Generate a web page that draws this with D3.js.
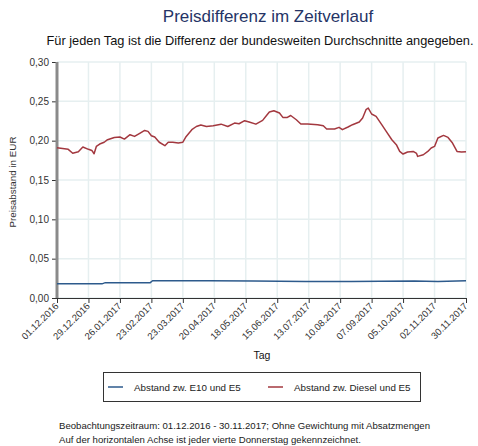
<!DOCTYPE html>
<html>
<head>
<meta charset="utf-8">
<script src="https://cdn.jsdelivr.net/npm/d3@7"></script>
<style>
  body { margin: 0; background: #fff; }
  text { font-family: "Liberation Sans", Arial, sans-serif; }
</style>
</head>
<body>
<svg width="478" height="446"></svg>
<script>
const tickDates = ["2016-12-01", "2016-12-29", "2017-01-26", "2017-02-23", "2017-03-23", "2017-04-20",
    "2017-05-18", "2017-06-15", "2017-07-13", "2017-08-10", "2017-09-07", "2017-10-05",
    "2017-11-02", "2017-11-30"];
const yTicks = [0, 0.05, 0.10, 0.15, 0.20, 0.25, 0.30];

const dieselDates = ["2016-12-01", "2016-12-06", "2016-12-11", "2016-12-15", "2016-12-20", "2016-12-24",
    "2016-12-29", "2017-01-01", "2017-01-03", "2017-01-05", "2017-01-08", "2017-01-12", "2017-01-15",
    "2017-01-21", "2017-01-26", "2017-01-30", "2017-02-04", "2017-02-08", "2017-02-13", "2017-02-17",
    "2017-02-20", "2017-02-23", "2017-02-26", "2017-03-02", "2017-03-07", "2017-03-10", "2017-03-14",
    "2017-03-19", "2017-03-23", "2017-03-26", "2017-03-31", "2017-04-04", "2017-04-08", "2017-04-13",
    "2017-04-19", "2017-04-26", "2017-05-02", "2017-05-08", "2017-05-12", "2017-05-17", "2017-05-21",
    "2017-05-27", "2017-06-02", "2017-06-06", "2017-06-08", "2017-06-12", "2017-06-17", "2017-06-20",
    "2017-06-24", "2017-06-27", "2017-07-02", "2017-07-06", "2017-07-12", "2017-07-21", "2017-07-26",
    "2017-07-29", "2017-08-05", "2017-08-09", "2017-08-12", "2017-08-17", "2017-08-21", "2017-08-27",
    "2017-08-30", "2017-09-02", "2017-09-04", "2017-09-07", "2017-09-11", "2017-09-16", "2017-09-20",
    "2017-09-25", "2017-09-29", "2017-10-02", "2017-10-05", "2017-10-09", "2017-10-14", "2017-10-17",
    "2017-10-18", "2017-10-23", "2017-10-27", "2017-10-30", "2017-11-02", "2017-11-05", "2017-11-10",
    "2017-11-14", "2017-11-18", "2017-11-22", "2017-11-26", "2017-11-30"];
const dieselValues = [0.191, 0.190, 0.189, 0.184, 0.186, 0.192,
    0.189, 0.1876, 0.1834, 0.1927, 0.1957, 0.198, 0.2012,
    0.2041, 0.2046, 0.202, 0.2076, 0.2054, 0.2097, 0.213,
    0.2118, 0.2063, 0.2046, 0.198, 0.1936, 0.198, 0.198,
    0.197, 0.198, 0.2054, 0.214, 0.218, 0.220, 0.218,
    0.219, 0.221, 0.218, 0.2224, 0.2215, 0.2254, 0.2237,
    0.221, 0.2258, 0.233, 0.2364, 0.238, 0.2351, 0.2296,
    0.2296, 0.232, 0.2266, 0.2212, 0.2212, 0.2203, 0.219,
    0.2148, 0.2148, 0.2169, 0.214, 0.2174, 0.2203, 0.2237,
    0.2288, 0.2394, 0.2415, 0.2339, 0.2309, 0.2203, 0.2118,
    0.2012, 0.1949, 0.1863, 0.183, 0.1856, 0.1863, 0.1838,
    0.180, 0.1821, 0.1863, 0.1907, 0.1927, 0.2034, 0.2067,
    0.2041, 0.197, 0.1863, 0.1856, 0.186];

const e10Dates = ["2016-12-01", "2017-01-10", "2017-01-13", "2017-02-22", "2017-02-24", "2017-04-15",
    "2017-05-25", "2017-07-10", "2017-08-20", "2017-09-15", "2017-10-15", "2017-11-05", "2017-11-30"];
const e10Values = [0.018, 0.018, 0.0195, 0.0195, 0.022, 0.0218,
    0.0215, 0.021, 0.021, 0.0212, 0.0215, 0.021, 0.022];

const seriesNames = ["Abstand zw. E10 und E5", "Abstand zw. Diesel und E5"];
const seriesColors = ["#2d5a8c", "#a3383f"];

const parse = d3.timeParse("%Y-%m-%d");
const fmt = d3.timeFormat("%d.%m.%Y");

const svg = d3.select("svg");
const plotLeft = 57, plotRight = 466, plotTop = 62, plotBottom = 298;

const x = d3.scaleTime()
    .domain([parse(tickDates[0]), parse(tickDates[tickDates.length - 1])])
    .range([plotLeft, plotRight]);
const y = d3.scaleLinear().domain([0, 0.30]).range([plotBottom, plotTop]);

// grid
svg.append("g")
    .selectAll("line")
    .data(tickDates.map(parse))
    .enter()
    .append("line")
    .attr("x1", (d) => x(d)).attr("x2", (d) => x(d))
    .attr("y1", plotTop).attr("y2", plotBottom)
    .attr("stroke", "#e6eff0").attr("stroke-width", 1.5);
svg.append("g")
    .selectAll("line")
    .data(yTicks)
    .enter()
    .append("line")
    .attr("x1", plotLeft).attr("x2", plotRight)
    .attr("y1", (d) => y(d)).attr("y2", (d) => y(d))
    .attr("stroke", "#e6eff0").attr("stroke-width", 1.5);

// y axis
const yAxis = svg.append("g")
    .attr("transform", `translate(${plotLeft},0)`)
    .call(d3.axisLeft(y).tickValues(yTicks).tickSize(5)
        .tickFormat((d) => d3.format(".2f")(d).replace(".", ",")));
yAxis.select(".domain").remove();
yAxis.selectAll("text").attr("font-size", 10).attr("fill", "#333");
yAxis.selectAll("line").attr("stroke", "#333");
svg.append("line")
    .attr("x1", plotLeft).attr("x2", plotLeft).attr("y1", plotTop).attr("y2", plotBottom)
    .attr("stroke", "#8a8a8a").attr("stroke-width", 3);

// x axis
const xAxis = svg.append("g")
    .attr("transform", `translate(0,${plotBottom})`)
    .call(d3.axisBottom(x).tickValues(tickDates.map(parse)).tickSize(5).tickFormat(fmt));
xAxis.select(".domain").attr("stroke", "#333");
xAxis.selectAll("line").attr("stroke", "#333");
xAxis.selectAll("text")
    .attr("font-size", 9.5).attr("fill", "#333")
    .attr("text-anchor", "end")
    .attr("x", -5).attr("y", 4).attr("dy", "0.35em")
    .attr("transform", "rotate(-45)");

// lines
const line = d3.line().x((d) => x(d[0])).y((d) => y(d[1]));
const e10 = e10Dates.map((d, i) => [parse(d), e10Values[i]]);
const diesel = dieselDates.map((d, i) => [parse(d), dieselValues[i]]);
[e10, diesel].forEach((data, i) => {
    svg.append("path")
        .datum(data)
        .attr("d", line)
        .attr("fill", "none")
        .attr("stroke", seriesColors[i])
        .attr("stroke-width", 1.5)
        .attr("stroke-linejoin", "round");
});

// titles
svg.append("text").attr("x", 268).attr("y", 22).attr("text-anchor", "middle")
    .attr("font-size", 17).attr("fill", "#253466").text("Preisdifferenz im Zeitverlauf");
svg.append("text").attr("x", 260).attr("y", 45).attr("text-anchor", "middle")
    .attr("font-size", 12.8).attr("fill", "#111")
    .text("Für jeden Tag ist die Differenz der bundesweiten Durchschnitte angegeben.");
svg.append("text").attr("transform", "translate(16,182) rotate(-90)").attr("text-anchor", "middle")
    .attr("font-size", 9.8).attr("fill", "#333").text("Preisabstand in EUR");
svg.append("text").attr("x", 262).attr("y", 359).attr("text-anchor", "middle")
    .attr("font-size", 10.5).attr("fill", "#111").text("Tag");

// legend
svg.append("rect").attr("x", 103.5).attr("y", 372.5).attr("width", 317).attr("height", 29)
    .attr("fill", "#fff").attr("stroke", "#333");
const legendX = [108, 268];
seriesNames.forEach((name, i) => {
    svg.append("line").attr("x1", legendX[i]).attr("x2", legendX[i] + 15)
        .attr("y1", 387).attr("y2", 387)
        .attr("stroke", seriesColors[i]).attr("stroke-width", 1.5);
    svg.append("text").attr("x", legendX[i] + 26).attr("y", 390.5)
        .attr("font-size", 9.8).attr("fill", "#222").text(name);
});

// footnote
svg.append("text").attr("x", 59).attr("y", 429).attr("font-size", 9.6).attr("fill", "#222")
    .text("Beobachtungszeitraum: 01.12.2016 - 30.11.2017; Ohne Gewichtung mit Absatzmengen");
svg.append("text").attr("x", 59).attr("y", 443).attr("font-size", 9.6).attr("fill", "#222")
    .text("Auf der horizontalen Achse ist jeder vierte Donnerstag gekennzeichnet.");
</script>
</body>
</html>
